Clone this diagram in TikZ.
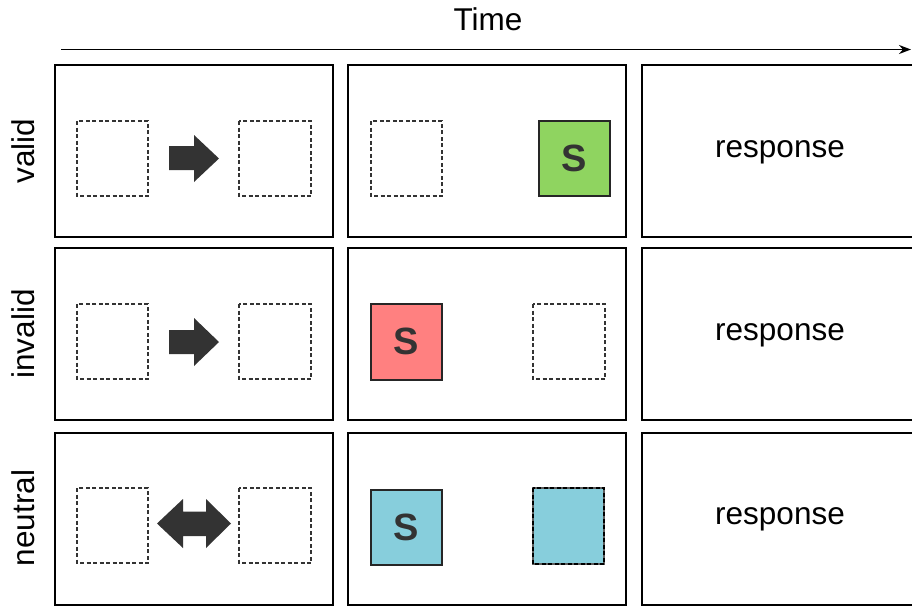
\documentclass[tikz,border=0pt]{standalone}
\usepackage{fontspec}
\setmainfont{Liberation Sans}
\usetikzlibrary{arrows.meta}
\definecolor{ink}{HTML}{333333}
\definecolor{okgreen}{HTML}{8FD460}
\definecolor{badred}{HTML}{FF8080}
\definecolor{neutblue}{HTML}{87CEDC}
\tikzset{
  panel/.style={draw=black, line width=2, fill=white},
  slot/.style={draw=ink, line width=1.2, dash pattern=on 4 off 2.5},
  cue/.style={fill=ink, draw=none},
  target/.style={draw=black!85, line width=1.6, text=ink,
    font=\fontsize{38}{40}\selectfont\bfseries},
  bigtext/.style={font=\fontsize{31.5}{36}\selectfont},
}
\begin{document}
\begin{tikzpicture}[x=1pt, y=-1pt]
  \clip (0,0) rectangle (912,606);
  \fill[white] (0,0) rectangle (912,606);

  % time axis
  \node[bigtext, anchor=base] (time) at (488,30) {Time};
  \coordinate (t0) at (61,49.5);
  \coordinate (t1) at (911,49.5);
  \draw[line width=1.8, -{Stealth[length=12, width=9]}] (t0) -- (t1);

  % panels: three conditions (rows) by three phases (columns)
  \foreach \r/\top in {1/65, 2/248, 3/433} {
    \draw[panel] (55,\top) rectangle (333,\top+172);
    \draw[panel] (348,\top) rectangle (626,\top+172);
    \draw[panel] (642,\top) rectangle (925,\top+172);
  }

  % condition labels
  \node[bigtext, rotate=90, anchor=base] (lvalid)   at (34,151) {valid};
  \node[bigtext, rotate=90, anchor=base] (linvalid) at (34,334) {invalid};
  \node[bigtext, rotate=90, anchor=base] (lneutral) at (34,518) {neutral};

  % response phase
  \node[bigtext, anchor=base] (resp1) at (780,157) {response};
  \node[bigtext, anchor=base] (resp2) at (780,340) {response};
  \node[bigtext, anchor=base] (resp3) at (780,524) {response};

  % cue phase: placeholders and arrow cues
  \foreach \top in {121, 304, 488} {
    \draw[slot] (77,\top) rectangle (148,\top+75);
    \draw[slot] (239,\top) rectangle (311,\top+75);
  }
  \fill[cue] (169,146) -- (194,146) -- (194,135) -- (219,158.5) -- (194,182)
    -- (194,170) -- (169,170) -- cycle;
  \fill[cue] (169,330) -- (194,330) -- (194,318) -- (219,342) -- (194,366)
    -- (194,354) -- (169,354) -- cycle;
  \fill[cue] (157,523.5) -- (183,499) -- (183,511.5) -- (206,511.5) -- (206,499)
    -- (231,523.5) -- (206,548) -- (206,536) -- (183,536) -- (183,548) -- cycle;

  % target phase
  \draw[slot] (371,121) rectangle (442,196);
  \node[target, fill=okgreen, minimum width=71, minimum height=75, anchor=north west,
    inner sep=0] (s1) at (538,120) {S};

  \node[target, fill=badred, minimum width=71, minimum height=76, anchor=north west,
    inner sep=0] (s2) at (370,303) {S};
  \draw[slot] (533,304) rectangle (605,379);

  \node[target, fill=neutblue, minimum width=71, minimum height=75, anchor=north west,
    inner sep=0] (s3) at (370,489) {S};
  \fill[neutblue] (533,488) rectangle (604,564);
  \draw[draw=ink!80, line width=1.3] (533,488) rectangle (604,564);
  \draw[slot, draw=black] (533,488) rectangle (604,564);
\end{tikzpicture}
\end{document}
